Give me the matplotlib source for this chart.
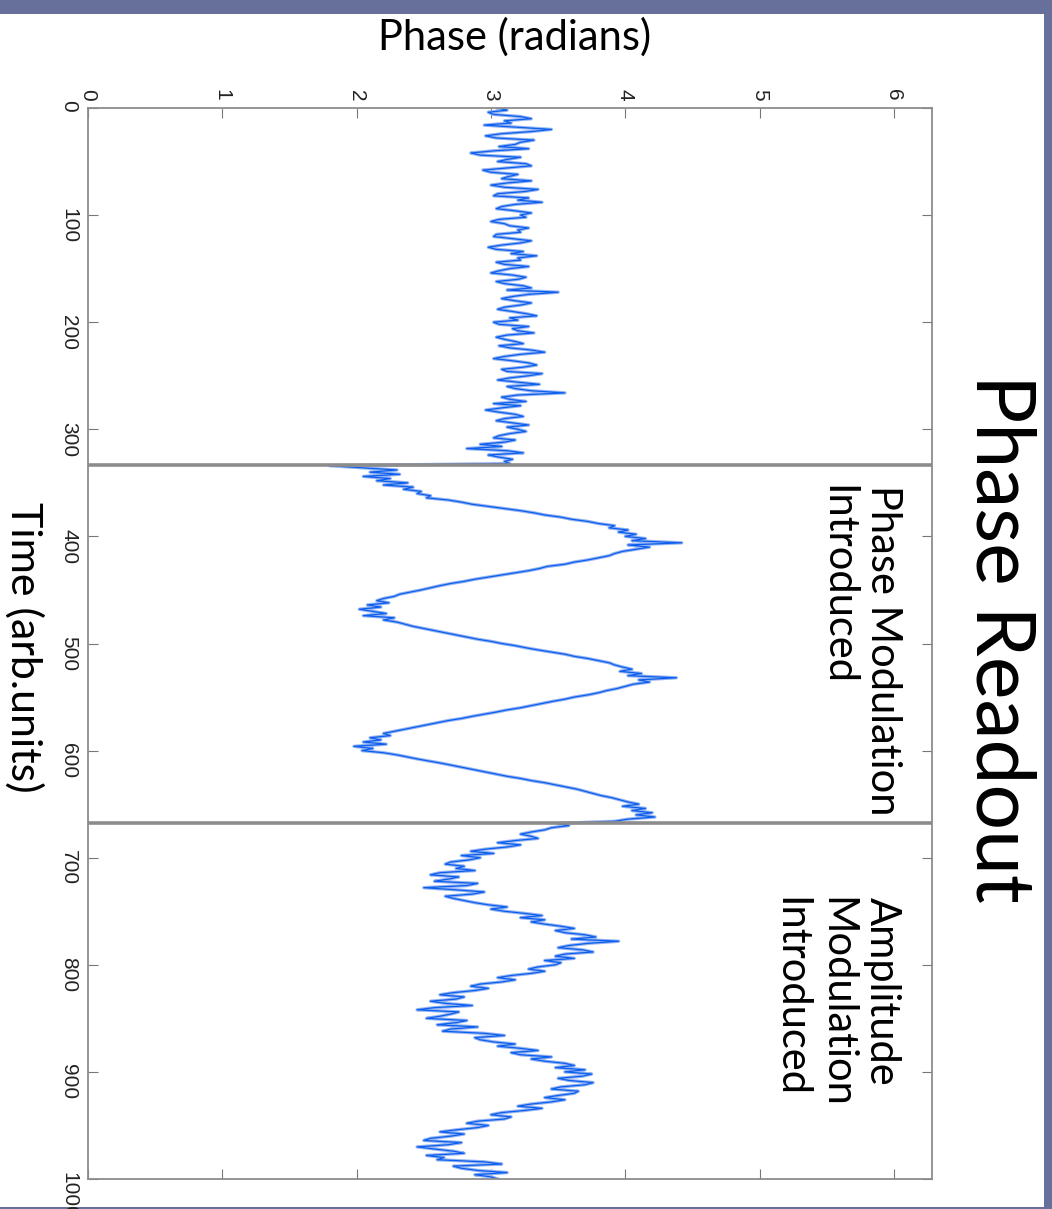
import numpy as np
import matplotlib
matplotlib.use("Agg")
import matplotlib.pyplot as plt
from matplotlib.patches import Rectangle

# phase readout (radians), one sample every 2 time units
# before the modulation, t = 0 .. 332
quiet = [
    3.05, 3.12, 2.98, 3.02, 3.22, 3.30, 3.10, 3.15, 2.95, 3.20,
    3.45, 3.30, 3.08, 2.96, 3.04, 3.32, 3.22, 3.18, 3.06, 3.28,
    3.02, 2.85, 2.92, 3.22, 3.12, 3.05, 3.26, 3.30, 3.12, 2.94,
    3.00, 3.20, 3.13, 3.08, 3.30, 3.12, 3.00, 3.10, 3.35, 3.25,
    3.05, 3.02, 3.28, 3.20, 3.38, 3.18, 3.08, 3.04, 3.18, 3.30,
    3.22, 3.26, 3.06, 3.00, 3.10, 3.14, 3.28, 3.20, 3.22, 3.04,
    3.02, 3.16, 3.30, 3.22, 3.08, 2.98, 3.04, 3.24, 3.15, 3.34,
    3.20, 3.22, 3.04, 3.10, 3.28, 3.14, 3.06, 3.00, 3.16, 3.26,
    3.20, 3.04, 3.10, 3.24, 3.30, 3.12, 3.50, 3.28, 3.16, 3.08,
    3.18, 3.30, 3.22, 3.10, 3.05, 3.16, 3.26, 3.34, 3.14, 3.20,
    3.02, 3.06, 3.28, 3.16, 3.20, 3.32, 3.12, 3.04, 3.10, 3.18,
    3.24, 3.06, 3.14, 3.30, 3.40, 3.22, 3.10, 3.02, 3.16, 3.28,
    3.34, 3.24, 3.08, 3.12, 3.38, 3.28, 3.14, 3.05, 3.20, 3.36,
    3.12, 3.18, 3.30, 3.55, 3.20, 3.08, 3.14, 3.26, 3.02, 3.22,
    3.08, 2.96, 3.06, 3.18, 3.24, 3.10, 3.04, 3.16, 3.28, 3.12,
    3.20, 3.26, 3.14, 3.06, 3.02, 3.18, 3.10, 2.92, 3.08, 2.82,
    3.12, 3.24, 2.98, 3.06, 3.16, 3.10, 3.14,
]
# phase modulation, t = 334 .. 666
phase_mod = [
    1.80, 2.05, 2.30,
    2.10, 2.32, 2.05, 2.25, 2.15, 2.38, 2.20, 2.42, 2.35, 2.48,
    2.45, 2.55, 2.52, 2.68, 2.78, 2.86, 2.98, 3.10, 3.22, 3.32,
    3.40, 3.52, 3.60, 3.72, 3.80, 3.92, 3.88, 4.02, 3.95, 4.08,
    4.00, 4.15, 4.05, 4.42, 4.02, 4.18, 4.08, 3.98, 3.92, 3.88,
    3.80, 3.72, 3.62, 3.55, 3.42, 3.36, 3.28, 3.18, 3.08, 2.98,
    2.88, 2.80, 2.70, 2.62, 2.55, 2.48, 2.40, 2.32, 2.28, 2.20,
    2.15, 2.24, 2.08, 2.18, 2.02, 2.12, 2.22, 2.05, 2.28, 2.20,
    2.30, 2.36, 2.42, 2.50, 2.58, 2.66, 2.74, 2.82, 2.90, 3.00,
    3.08, 3.18, 3.26, 3.35, 3.45, 3.55, 3.62, 3.72, 3.80, 3.88,
    3.92, 3.98, 4.05, 3.96, 4.12, 4.02, 4.38, 4.10, 4.18, 4.06,
    4.00, 3.94, 3.86, 3.80, 3.72, 3.62, 3.55, 3.46, 3.38, 3.30,
    3.22, 3.12, 3.04, 2.95, 2.86, 2.78, 2.68, 2.60, 2.52, 2.44,
    2.36, 2.28, 2.20, 2.25, 2.10, 2.18, 2.05, 2.22, 1.98, 2.12,
    2.04, 2.20, 2.30, 2.38, 2.46, 2.55, 2.64, 2.72, 2.80, 2.88,
    2.96, 3.04, 3.12, 3.22, 3.30, 3.40, 3.48, 3.56, 3.64, 3.70,
    3.76, 3.82, 3.90, 3.96, 4.02, 4.10, 3.98, 4.15, 4.05, 4.20,
    4.08, 4.22, 4.02, 3.92,
]
# amplitude modulation, t = 668 .. 1000
amp_mod = [
    3.50, 3.58, 3.45, 3.40, 3.30, 3.22,
    3.30, 3.35, 3.18, 3.05, 3.22, 3.12, 2.96, 2.85, 3.02, 2.78,
    2.92, 2.84, 2.70, 2.66, 2.80, 2.74, 2.88, 2.62, 2.55, 2.76,
    2.68, 2.58, 2.90, 2.82, 2.50, 2.74, 2.95, 2.86, 2.66, 2.72,
    2.80, 2.88, 2.98, 3.12, 3.00, 3.10, 3.25, 3.38, 3.22, 3.40,
    3.30, 3.40, 3.52, 3.62, 3.48, 3.55, 3.70, 3.78, 3.60, 3.95,
    3.72, 3.58, 3.50, 3.68, 3.76, 3.55, 3.48, 3.62, 3.40, 3.52,
    3.48, 3.35, 3.28, 3.40, 3.30, 3.15, 3.05, 3.18, 3.08, 2.92,
    2.85, 2.98, 2.88, 2.72, 2.62, 2.80, 2.74, 2.55, 2.66, 2.86,
    2.58, 2.45, 2.76, 2.70, 2.62, 2.52, 2.82, 2.74, 2.60, 2.90,
    2.70, 2.64, 2.95, 3.10, 2.88, 2.92, 3.02, 3.18, 3.05, 3.22,
    3.35, 3.15, 3.22, 3.45, 3.30, 3.40, 3.55, 3.62, 3.48, 3.70,
    3.55, 3.75, 3.68, 3.50, 3.58, 3.76, 3.70, 3.52, 3.45, 3.65,
    3.62, 3.50, 3.40, 3.55, 3.45, 3.30, 3.20, 3.38, 3.25, 3.08,
    3.00, 3.15, 3.10, 2.90, 2.82, 2.98, 2.90, 2.75, 2.62, 2.80,
    2.70, 2.55, 2.50, 2.78, 2.68, 2.45, 2.58, 2.72, 2.80, 2.52,
    2.65, 2.60, 2.95, 3.08, 2.72, 2.78, 2.90, 3.12, 2.88, 3.00,
    3.05,
]
phase = np.array(quiet + phase_mod + amp_mod)
time = np.arange(len(phase)) * 2

section_marks = [333, 668]
phase_ticks = [0, 1, 2, 3, 4, 5, 6]
time_ticks = [0, 100, 200, 300, 400, 500, 600, 700, 800, 900, 1000]

txt_font = ["Lato", "DejaVu Sans"]
tick_font = ["Liberation Sans", "DejaVu Sans"]

fig = plt.figure(figsize=(10.52, 12.09), dpi=100, facecolor="#66709a")
fig.patches.append(Rectangle((0, 2 / 1209), 1044 / 1052, 1 - 16 / 1209,
                             transform=fig.transFigure, facecolor="white",
                             edgecolor="none", zorder=-10))

# figure is drawn turned a quarter clockwise: time runs down, phase runs right
ax = fig.add_axes([88 / 1052, 1 - 1179 / 1209, 844 / 1052, 1071 / 1209])
ax.set_zorder(2)
ax.set_facecolor("white")
ax.plot(phase, time, color="#96b4f3", lw=2.4)
ax.plot(phase, time, color="#0c5fec", lw=0.9)
for t in section_marks:
    ax.axhline(t, color="#8c8c8c", lw=2.6, zorder=3)

ax.set_xlim(0, 2 * np.pi)
ax.set_ylim(1000, 0)
ax.set_xticks(phase_ticks)
ax.set_yticks(time_ticks)
ax.xaxis.tick_top()
ax.tick_params(which="both", direction="in", length=7, color="#777777",
               top=True, bottom=True, left=True, right=True, labelsize=15,
               labelcolor="#222222")
ax.tick_params(axis="y", pad=7)
ax.tick_params(axis="x", pad=5)
for lab in ax.get_xticklabels() + ax.get_yticklabels():
    lab.set_rotation(-90)
    lab.set_family(tick_font)
for sp in ax.spines.values():
    sp.set_color("#8c8c8c")
    sp.set_linewidth(1.3)

fig.text(515 / 1052, 1 - 37 / 1209, "Phase (radians)", fontsize=30,
         family=txt_font, ha="center", va="center")
fig.text(24 / 1052, 1 - 647 / 1209, "Time (arb.units)", fontsize=31,
         family=txt_font, rotation=-90, ha="center", va="center")
fig.text(1000 / 1052, 1 - 638 / 1209, "Phase Readout", fontsize=58,
         family=txt_font, rotation=-90, ha="center", va="center")
fig.text(860 / 1052, 1 - 485 / 1209, "Phase Modulation\nIntroduced",
         fontsize=30, family=txt_font, rotation=-90, ha="center", va="top",
         multialignment="left", linespacing=1.25)
fig.text(836 / 1052, 1 - 897 / 1209, "Amplitude\nModulation\nIntroduced",
         fontsize=30, family=txt_font, rotation=-90, ha="center", va="top",
         multialignment="left", linespacing=1.25)

fig.savefig("out.png", dpi=100, facecolor=fig.get_facecolor())
